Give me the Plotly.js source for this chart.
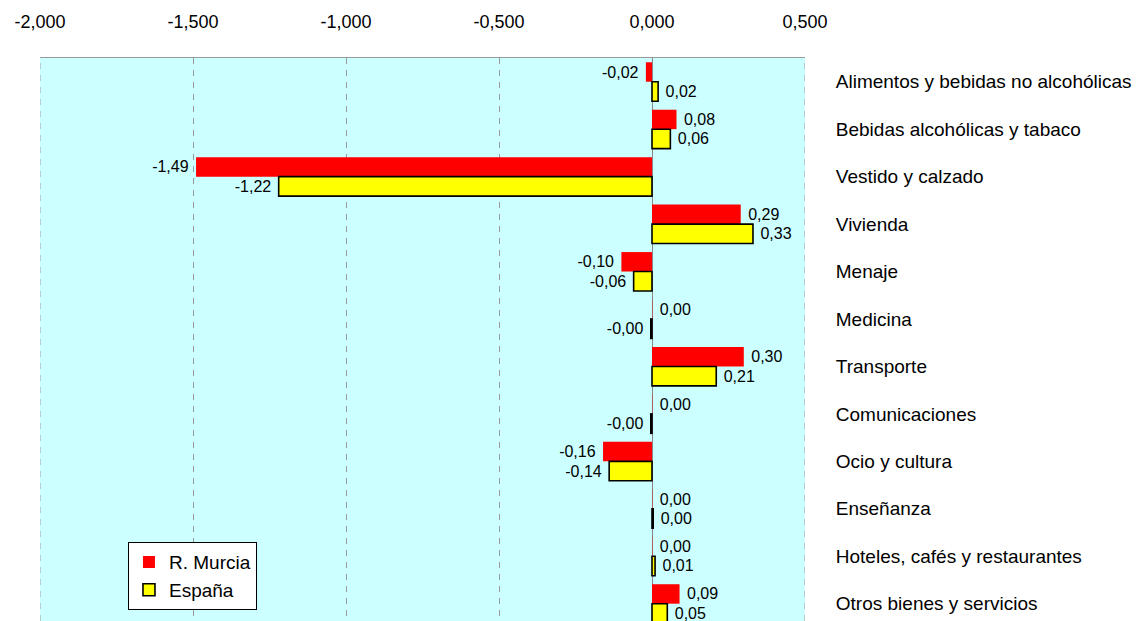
<!DOCTYPE html>
<html>
<head>
<meta charset="utf-8">
<script src="https://cdn.plot.ly/plotly-3.0.1.min.js"></script>
<style>html,body{margin:0;padding:0;background:#fff;overflow:hidden}</style>
</head>
<body>
<div id="chart" style="width:1142px;height:621px"></div>
<script>
var categories = [
  "Alimentos y bebidas no alcohólicas",
  "Bebidas alcohólicas y tabaco",
  "Vestido y calzado",
  "Vivienda",
  "Menaje",
  "Medicina",
  "Transporte",
  "Comunicaciones",
  "Ocio y cultura",
  "Enseñanza",
  "Hoteles, cafés y restaurantes",
  "Otros bienes y servicios"
];
var murcia = [-0.02, 0.08, -1.49, 0.29, -0.10, 0.001, 0.30, 0.001, -0.16, 0.001, 0.001, 0.09];
var espana = [0.02, 0.06, -1.22, 0.33, -0.06, -0.004, 0.21, -0.004, -0.14, 0.004, 0.01, 0.05];
var seriesNames = ["R. Murcia", "España"];
var xTicks = [-2, -1.5, -1, -0.5, 0, 0.5];

var font = "'Liberation Sans', Arial, sans-serif";
var NB = "\u00A0";

function fmt(v, d) {
  var s = Math.abs(v).toFixed(d).replace(".", ",");
  return (v < 0 ? "-" : "") + s;
}
function labels(arr) {
  return arr.map(function (v) {
    return v < 0 ? fmt(v, 2) + NB : NB + fmt(v, 2);
  });
}

var traces = [
  {
    type: "bar", orientation: "h", name: seriesNames[0],
    y: categories, x: murcia,
    marker: {color: "#FF0000", line: {width: 0}},
    text: labels(murcia), textposition: "outside",
    textfont: {family: font, size: 16, color: "#000"},
    cliponaxis: false, constraintext: "none",
    hoverinfo: "x+y"
  },
  {
    type: "bar", orientation: "h", name: seriesNames[1],
    y: categories, x: espana,
    marker: {color: "#FFFF00", line: {width: 1.6, color: "#000"}},
    text: labels(espana), textposition: "outside",
    textfont: {family: font, size: 16, color: "#000"},
    cliponaxis: false, constraintext: "none",
    hoverinfo: "x+y"
  }
];

var xMin = xTicks[0], xMax = xTicks[xTicks.length - 1];
var edgeLines = [xMin, xMax].map(function (v) {
  return {
    type: "line", layer: "below", xref: "x", yref: "paper",
    x0: v, x1: v, y0: 0, y1: 1,
    line: {color: "#999999", width: 1, dash: "6px,6px"}
  };
});

var layout = {
  width: 1142, height: 621,
  margin: {l: 40, r: 337, t: 58, b: 0, pad: 0},
  paper_bgcolor: "#FFFFFF",
  plot_bgcolor: "#CCFFFF",
  barmode: "group",
  bargap: 0.18,
  bargroupgap: 0,
  font: {family: font, color: "#000"},
  showlegend: true,
  legend: {
    x: 0.115, y: 0.14, xanchor: "left", yanchor: "top",
    bgcolor: "#FFFFFF", bordercolor: "#000", borderwidth: 1,
    font: {family: font, size: 19, color: "#000"},
    traceorder: "normal", tracegroupgap: 0
  },
  shapes: edgeLines,
  xaxis: {
    side: "top",
    range: [xMin, xMax],
    tickvals: xTicks,
    ticktext: xTicks.map(function (v) { return fmt(v, 3); }),
    tickfont: {family: font, size: 18, color: "#000"},
    ticks: "outside", ticklen: 22, tickcolor: "rgba(0,0,0,0)",
    showgrid: true, gridcolor: "#999999", gridwidth: 1, griddash: "6px,6px",
    zeroline: true, zerolinecolor: "#888888", zerolinewidth: 1,
    showline: true, linecolor: "#999999", linewidth: 1, mirror: false,
    fixedrange: true
  },
  yaxis: {
    side: "right",
    type: "category",
    categoryorder: "array", categoryarray: categories,
    range: [11.365, -0.5],
    tickfont: {family: font, size: 19, color: "#000"},
    ticks: "outside", ticklen: 26, tickcolor: "rgba(0,0,0,0)",
    showgrid: false, zeroline: false, showline: false,
    fixedrange: true
  }
};

Plotly.newPlot("chart", traces, layout, {displayModeBar: false, staticPlot: true});
</script>
</body>
</html>
